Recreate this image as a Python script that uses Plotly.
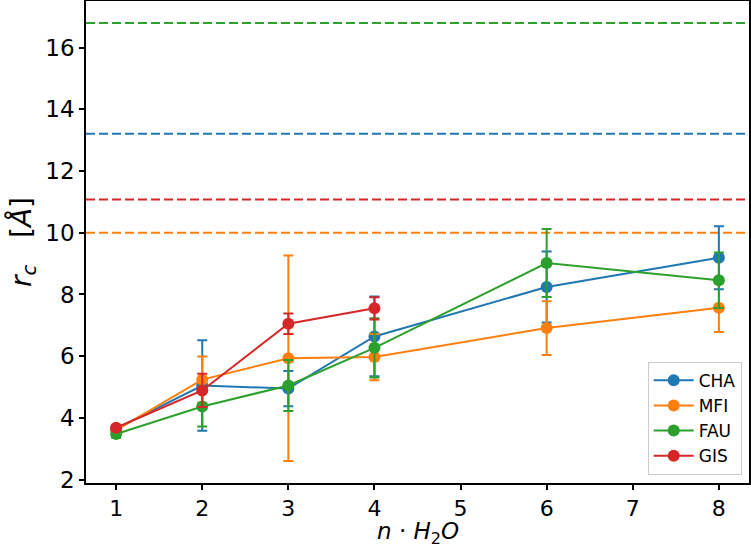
import plotly.graph_objects as go

# Data
series_names = ["CHA", "MFI", "FAU", "GIS"]
colors = ["#1f77b4", "#ff7f0e", "#2ca02c", "#d62728"]

cha_x = [1, 2, 3, 4, 6, 8]
cha_y = [3.65, 5.05, 4.95, 6.64, 8.24, 9.19]
cha_err = [0.10, 1.47, 0.57, 1.29, 1.15, 1.02]

mfi_x = [1, 2, 3, 4, 6, 8]
mfi_y = [3.60, 5.24, 5.93, 5.97, 6.91, 7.57]
mfi_err = [0.10, 0.75, 3.33, 0.75, 0.87, 0.79]

fau_x = [1, 2, 3, 4, 6, 8]
fau_y = [3.48, 4.37, 5.05, 6.27, 9.02, 8.46]
fau_err = [0.12, 0.65, 0.83, 0.96, 1.10, 0.90]

gis_x = [1, 2, 3, 4]
gis_y = [3.68, 4.89, 7.05, 7.55]
gis_err = [0.08, 0.54, 0.33, 0.36]

# Horizontal reference levels (dashed), per series
ref_levels = [13.21, 10.0, 16.80, 11.08]

x_ticks = [1, 2, 3, 4, 5, 6, 7, 8]
y_ticks = [2, 4, 6, 8, 10, 12, 14, 16]

fig = go.Figure()

xs = [cha_x, mfi_x, fau_x, gis_x]
ys = [cha_y, mfi_y, fau_y, gis_y]
errs = [cha_err, mfi_err, fau_err, gis_err]

for name, c, x, y, e in zip(series_names, colors, xs, ys, errs):
    fig.add_trace(go.Scatter(
        x=x, y=y, name=name, mode="lines+markers",
        line=dict(color=c, width=2),
        marker=dict(color=c, size=12),
        error_y=dict(type="data", array=e, visible=True, color=c,
                     thickness=2, width=5),
    ))

for c, lvl in zip(colors, ref_levels):
    fig.add_shape(type="line", xref="paper", x0=0, x1=1, yref="y", y0=lvl, y1=lvl,
                  line=dict(color=c, width=2, dash="9px,4px"), layer="below")

font_family = "DejaVu Sans"

# x-axis title as annotation placed below the tick labels
fig.add_annotation(
    text="<i>n</i> · <i>H</i><sub>2</sub><i>O</i>",
    xref="paper", yref="paper", x=0.5, y=-0.139,
    xanchor="center", yanchor="bottom", showarrow=False,
    font=dict(size=23, family=font_family, color="black"),
)

fig.update_layout(
    width=751, height=551,
    margin=dict(l=86, r=2, t=1, b=68, autoexpand=False),
    plot_bgcolor="white", paper_bgcolor="white",
    font=dict(family=font_family, color="black", size=22),
    showlegend=True,
    legend=dict(x=0.989, y=0.017, xanchor="right", yanchor="bottom",
                bgcolor="rgba(255,255,255,0.8)", bordercolor="#cccccc", borderwidth=1,
                font=dict(size=17, family=font_family), tracegroupgap=0,
                itemwidth=40),
    xaxis=dict(
        range=[0.65, 8.35], tickmode="array", tickvals=x_ticks,
        showline=True, linecolor="black", linewidth=1.5, mirror=True,
        ticks="outside", ticklen=5, tickwidth=1.5, tickcolor="black",
        showgrid=False, zeroline=False, automargin=False,
        tickfont=dict(size=22),
    ),
    yaxis=dict(
        range=[1.89, 17.51], tickmode="array", tickvals=y_ticks,
        showline=True, linecolor="black", linewidth=1.5, mirror=True,
        ticks="outside", ticklen=5, tickwidth=1.5, tickcolor="black",
        showgrid=False, zeroline=False, automargin=False,
        tickfont=dict(size=23),
        title=dict(text="<i>r</i><sub><i>c</i></sub>&nbsp;&nbsp;&nbsp;[<i>Å</i>]", font=dict(size=28), standoff=6),
    ),
)

fig.write_html(
    "out.html",
    config={"displayModeBar": False},
    post_script="document.body.style.margin='0';document.body.style.padding='0';document.body.style.overflow='hidden';",
)
